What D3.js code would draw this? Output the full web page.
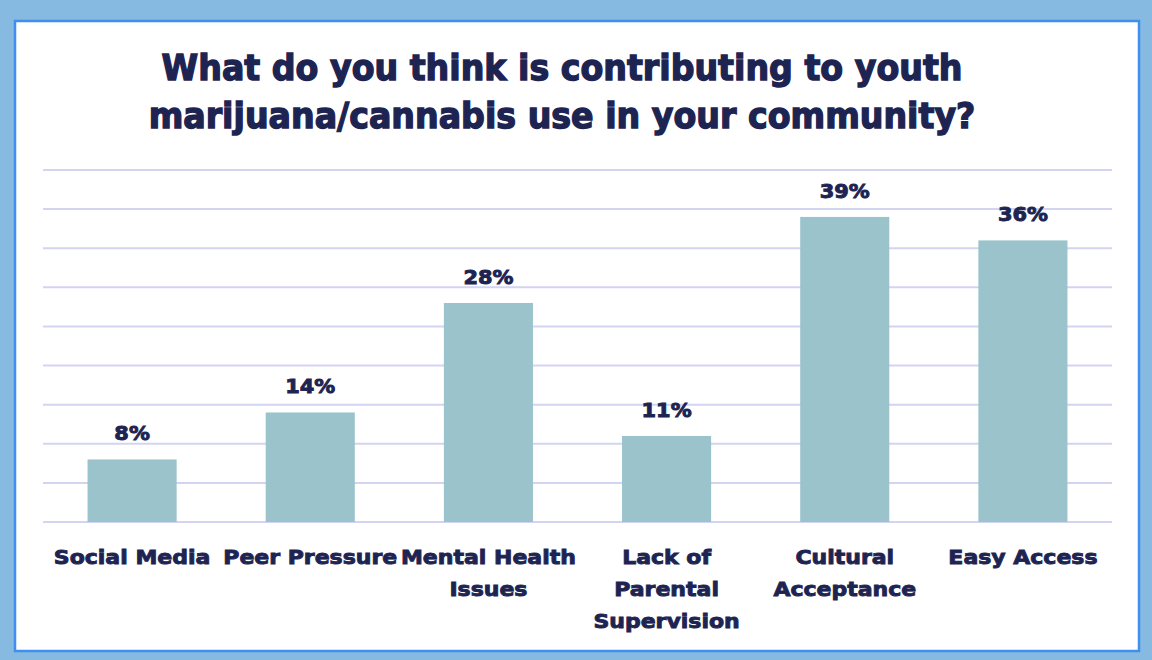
<!DOCTYPE html>
<html>
<head>
<meta charset="utf-8">
<script src="https://cdn.jsdelivr.net/npm/d3@7"></script>
<style>
  html, body { margin: 0; padding: 0; background: #87bae0; }
  svg { display: block; }
  text { font-family: "DejaVu Sans", "Liberation Sans", Arial, sans-serif; font-weight: bold; fill: #1e2452; stroke: #1e2452; }
  .title { stroke-width: 1.4px; }
  .axis-label, .value-label { stroke-width: 0.9px; }
</style>
</head>
<body>
<div class="chart"></div>
<script>
const categories = ['Social Media', 'Peer Pressure', 'Mental Health Issues', 'Lack of Parental Supervision', 'Cultural Acceptance', 'Easy Access'];
const values = [8, 14, 28, 11, 39, 36];
// how each category label wraps under its bar
const labelLines = [
  ['Social Media'],
  ['Peer Pressure'],
  ['Mental Health', 'Issues'],
  ['Lack of', 'Parental', 'Supervision'],
  ['Cultural', 'Acceptance'],
  ['Easy Access']
];
const gridTicks = [0, 5, 10, 15, 20, 25, 30, 35, 40, 45];
const titleLines = ['What do you think is contributing to youth', 'marijuana/cannabis use in your community?'];

const W = 1152, H = 660;
const svg = d3.select('.chart').append('svg')
  .attr('width', W)
  .attr('height', H);

// background + white panel with blue frame
svg.append('rect').attr('width', W).attr('height', H).attr('fill', '#87bae0');
svg.append('rect')
  .attr('x', 15).attr('y', 21)
  .attr('width', 1124).attr('height', 630)
  .attr('fill', '#ffffff')
  .attr('stroke', '#3f8ff0')
  .attr('stroke-width', 2.5);

// the original uses a very wide heavy face, so stretch horizontally a bit
const stretch = (cx, sx) => `translate(${cx},0) scale(${sx},1)`;

// title
svg.append('g')
  .attr('transform', stretch(562, 0.95))
  .append('text')
  .attr('class', 'title')
  .attr('text-anchor', 'middle')
  .attr('font-size', 35)
  .selectAll('tspan')
  .data(titleLines)
  .enter().append('tspan')
  .attr('x', 0)
  .attr('y', (d, i) => 80 + i * 48)
  .text(d => d);

const x = d3.scaleBand()
  .domain(categories)
  .range([43, 1112])
  .paddingInner(0.5)
  .paddingOuter(0.25);

const y = d3.scaleLinear()
  .domain([0, 45])
  .range([522, 170]);

// gridlines
svg.append('g')
  .selectAll('line')
  .data(gridTicks)
  .enter().append('line')
  .attr('x1', 43).attr('x2', 1112)
  .attr('y1', d => y(d)).attr('y2', d => y(d))
  .attr('stroke', '#d3d3f2')
  .attr('stroke-width', 2);

// bars
svg.selectAll('.bar')
  .data(values)
  .enter().append('rect')
  .attr('class', 'bar')
  .attr('x', (d, i) => x(categories[i]))
  .attr('y', d => y(d))
  .attr('width', x.bandwidth())
  .attr('height', d => y(0) - y(d))
  .attr('fill', '#9bc3cc');

// value labels
svg.selectAll('.value-g')
  .data(values)
  .enter().append('g')
  .attr('class', 'value-g')
  .attr('transform', (d, i) => stretch(x(categories[i]) + x.bandwidth() / 2, 1.1))
  .append('text')
  .attr('class', 'value-label')
  .attr('text-anchor', 'middle')
  .attr('font-size', 19)
  .attr('x', 0)
  .attr('y', d => y(d) - 19)
  .text(d => d + '%');

// category labels
const lbl = svg.selectAll('.axis-g')
  .data(categories)
  .enter().append('g')
  .attr('class', 'axis-g')
  .attr('transform', d => stretch(x(d) + x.bandwidth() / 2, 1.1))
  .append('text')
  .attr('class', 'axis-label')
  .attr('text-anchor', 'middle')
  .attr('font-size', 20);

lbl.selectAll('tspan')
  .data((d, i) => labelLines[i])
  .enter().append('tspan')
  .attr('x', 0)
  .attr('y', (d, i) => 564 + i * 32)
  .text(d => d);
</script>
</body>
</html>
